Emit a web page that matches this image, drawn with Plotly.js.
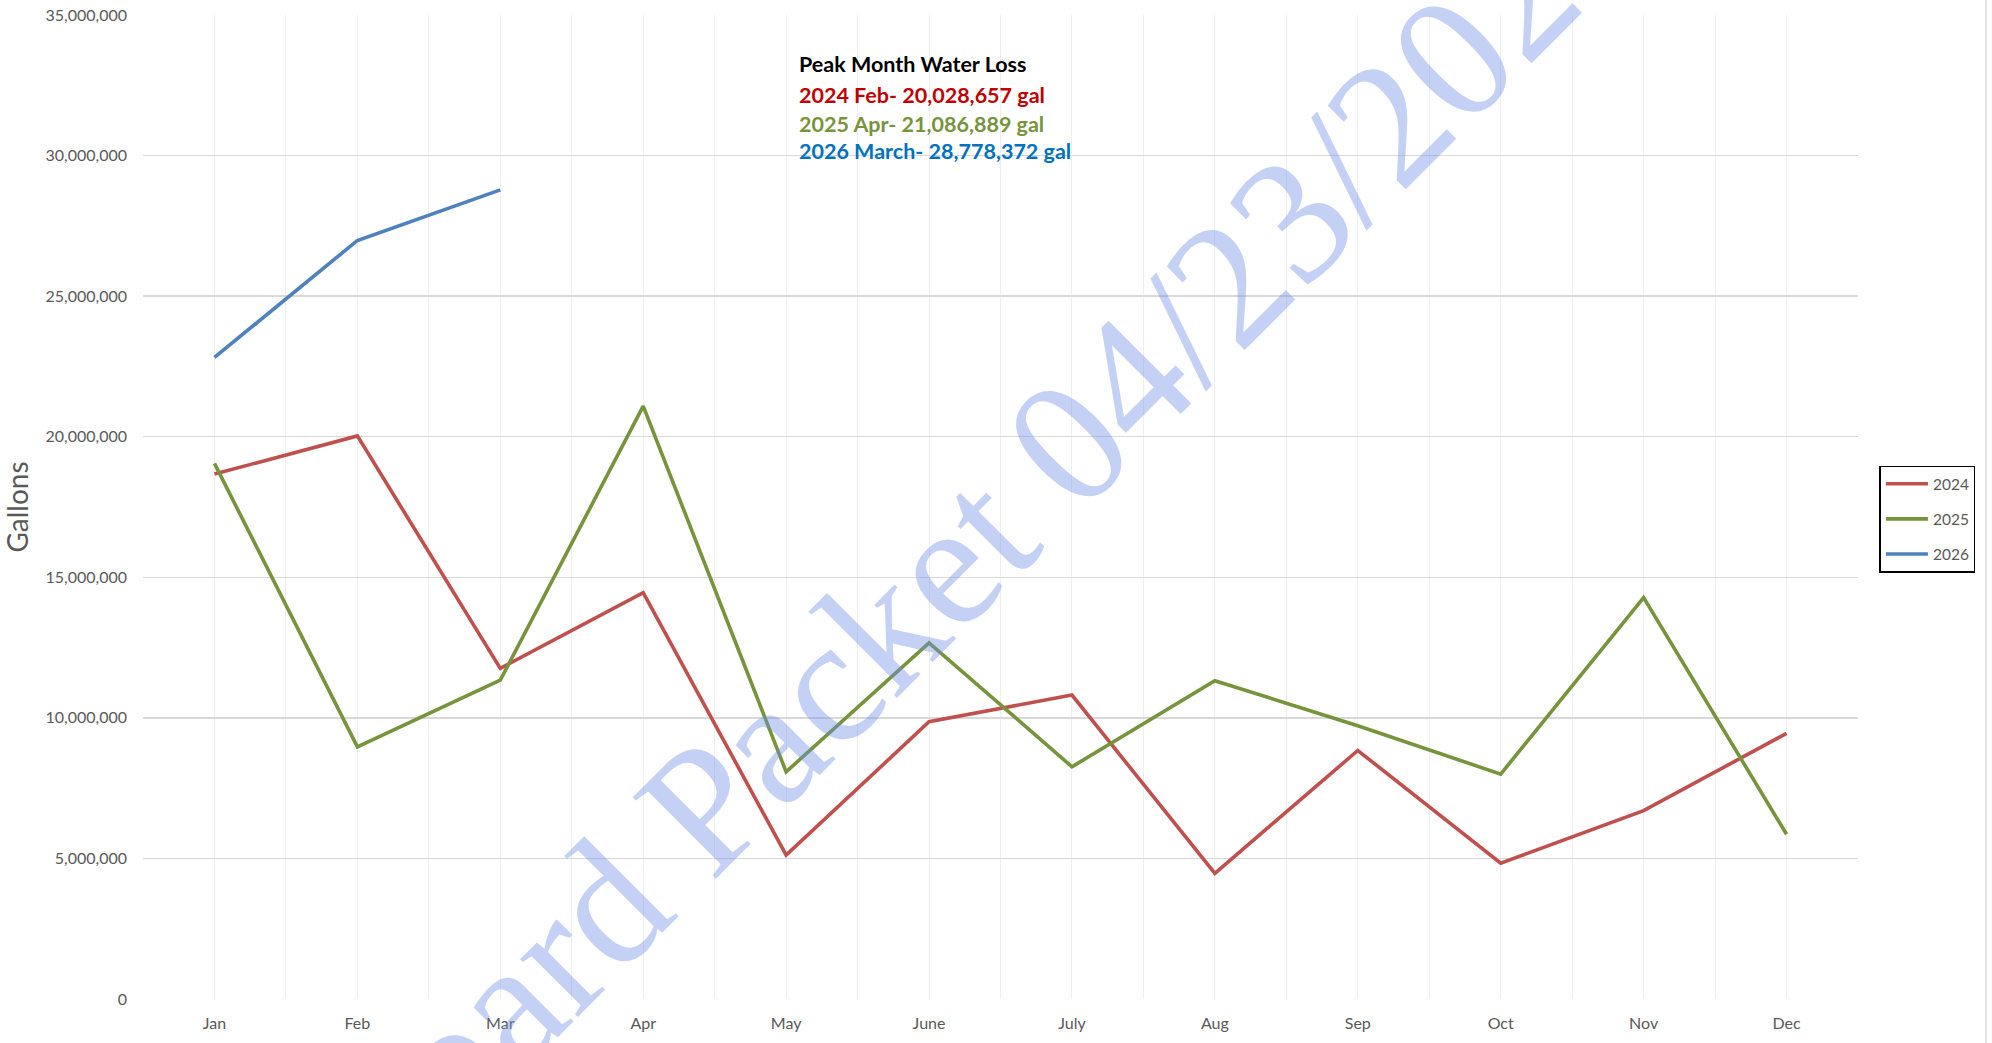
<!DOCTYPE html>
<html>
<head>
<meta charset="utf-8">
<script src="https://cdn.plot.ly/plotly-3.0.1.min.js"></script>
<style>
  html, body { margin: 0; padding: 0; background: #ffffff; }
  #chart { width: 1992px; height: 1043px; }
</style>
</head>
<body>
<div id="chart"></div>
<script>
// ---- Data ----
const months = ["Jan", "Feb", "Mar", "Apr", "May", "June", "July", "Aug", "Sep", "Oct", "Nov", "Dec"];
const loss2024 = [18670000, 20028657, 11760000, 14450000, 5120000, 9860000, 10810000, 4470000, 8840000, 4830000, 6700000, 9450000];
const loss2025 = [19050000, 8970000, 11340000, 21086889, 8080000, 12670000, 8260000, 11320000, 9720000, 8000000, 14280000, 5860000];
const loss2026 = [22820000, 26980000, 28778372];
const seriesNames = ["2024", "2025", "2026"];
const yTicks = [0, 5000000, 10000000, 15000000, 20000000, 25000000, 30000000, 35000000];
const peakTitle = "Peak Month Water Loss";
const peakLines = ["2024 Feb- 20,028,657 gal", "2025 Apr- 21,086,889 gal", "2026 March- 28,778,372 gal"];
const watermarkText = "Board Packet 04/23/2026";

// ---- Styles ----
const colors = ["#c0504d", "#77933c", "#4f81bd"];
const peakColors = ["#c00000", "#77933c", "#0070c0"];
const monthIdx = months.map((m, i) => i);
const FONT = "Lato, 'Open Sans', sans-serif";

const allSeries = [loss2024, loss2025, loss2026];
const traces = allSeries.map((vals, k) => ({
  type: "scatter",
  mode: "lines",
  name: seriesNames[k],
  legendgroup: seriesNames[k],
  x: monthIdx.slice(0, vals.length),
  y: vals,
  line: { color: colors[k], width: 3.6, shape: "linear" },
  hovertemplate: "%{text}: %{y:,}<extra>" + seriesNames[k] + "</extra>",
  text: months.slice(0, vals.length)
}));

const annotations = [
  {
    text: peakTitle, xref: "paper", yref: "paper", x: 0.3815, y: 0.9497,
    xanchor: "left", yanchor: "middle", showarrow: false,
    font: { family: FONT, size: 21.5, color: "#000000", weight: "bold" }
  }
];
const peakY = [0.9192, 0.8897, 0.8613];
peakLines.forEach((t, k) => annotations.push({
  text: t, xref: "paper", yref: "paper", x: 0.3815, y: peakY[k],
  xanchor: "left", yanchor: "middle", showarrow: false,
  font: { family: FONT, size: 21.5, color: peakColors[k], weight: "bold" }
}));
annotations.push({
  text: watermarkText, xref: "paper", yref: "paper", x: 0.4822, y: 0.4665,
  xanchor: "center", yanchor: "middle", showarrow: false, textangle: -45,
  font: { family: "'Liberation Serif', 'DejaVu Serif', serif", size: 178, color: "rgba(110,140,228,0.40)" }
});

const layout = {
  width: 1992, height: 1043,
  margin: { l: 143, r: 134, t: 15, b: 44 },
  paper_bgcolor: "#ffffff", plot_bgcolor: "#ffffff",
  showlegend: true,
  legend: {
    x: 1.0125, xanchor: "left", y: 0.4877, yanchor: "middle",
    bordercolor: "#000000", borderwidth: 1.5, bgcolor: "#ffffff",
    font: { family: FONT, size: 15.5, color: "#595959" },
    traceorder: "grouped", tracegroupgap: 12, itemwidth: 42
  },
  xaxis: {
    range: [-0.5, 11.5],
    tickmode: "array", tickvals: monthIdx, ticktext: months,
    showgrid: true, gridcolor: "#efefef", gridwidth: 1,
    minor: { tickmode: "linear", tick0: -0.5, dtick: 1, showgrid: true, gridcolor: "#efefef", gridwidth: 1 },
    zeroline: false, showline: false, ticks: "",
    ticklabelstandoff: 13,
    tickfont: { family: FONT, size: 16, color: "#595959" },
    fixedrange: true
  },
  yaxis: {
    range: [0, 35000000],
    tickmode: "array", tickvals: yTicks,
    tickformat: ",.0f",
    showgrid: true, gridcolor: "#d9d9d9", gridwidth: 1.3,
    zeroline: false, showline: false, ticks: "",
    ticklabelstandoff: 15,
    tickfont: { family: FONT, size: 16, color: "#595959" },
    title: { text: "Gallons", standoff: 8, font: { family: FONT, size: 28, color: "#595959" } },
    fixedrange: true
  },
  annotations: annotations,
  shapes: [
    { type: "line", xref: "paper", yref: "paper", x0: 1.0746, x1: 1.0746, y0: -0.05, y1: 1.02,
      line: { color: "#d9d9d9", width: 1.5 }, layer: "below" }
  ]
};

Plotly.newPlot("chart", traces, layout, { displayModeBar: false, staticPlot: true });
</script>
</body>
</html>
